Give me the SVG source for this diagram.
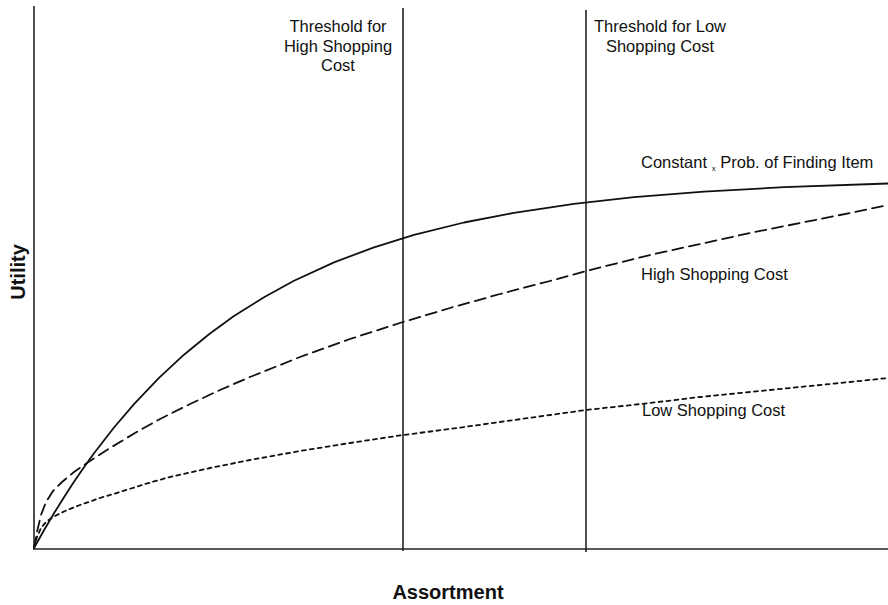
<svg xmlns="http://www.w3.org/2000/svg" width="888" height="605" viewBox="0 0 888 605">
<style>
text{font-family:"Liberation Sans",Arial,sans-serif;fill:#111}
.lbl{font-size:16.5px}
.ax{font-size:20px;font-weight:bold}
.line{stroke:#222;stroke-width:1.6;fill:none}
.curve{stroke:#111;stroke-width:1.8;fill:none;stroke-linecap:round;stroke-linejoin:round}
</style>
<rect width="888" height="605" fill="#fff"/>
<g id="axes">
<line class="line" x1="34" y1="6" x2="34" y2="549"/>
<line class="line" x1="33" y1="549" x2="888" y2="549"/>
</g>
<g id="thresholds">
<line class="line" x1="403" y1="8" x2="403" y2="551"/>
<line class="line" x1="586" y1="10" x2="586" y2="552"/>
</g>
<g id="connectors">
<path id="solid" class="curve" d="M34,548 L44,530.2 L54,513.3 L64,497.2 L74,481.8 L84,467.2 L94,453.3 L114,427.5 L134,404.1 L159,377.9 L184,354.7 L209,334.3 L234,316.1 L264,297.2 L294,280.8 L334,262.4 L374,247.3 L414,234.9 L464,222.5 L514,212.8 L574,203.9 L634,197.2 L704,191.6 L784,187.2 L888,183.5"/>
<path id="dashed" class="curve" stroke-dasharray="11 6" d="M34,548 L37,532 L41,515 L46,502 L53,491 L62,482 L74,472 L87,463 L110,448 L135,433 L160,419 L190,404 L220,390 L250,377 L300,357 L350,339 L403,322 L450,308 L500,294 L550,281 L586,271 L650,255 L700,244 L750,233 L800,223 L850,213 L888,205"/>
<path id="dotted" class="curve" stroke-dasharray="4 4" d="M34,548 L37,537 L41,528 L46,522 L53,517 L65,511 L80,505 L100,498 L120,492 L145,484 L170,477 L210,468 L250,460 L300,451 L350,443 L403,435 L450,429 L500,422 L550,415 L586,410 L650,403 L700,397 L750,392 L800,387 L850,382 L888,378"/>
</g>
<g id="label-high-threshold">
<text class="lbl" text-anchor="middle" x="338" y="32">Threshold for</text>
<text class="lbl" text-anchor="middle" x="338" y="52">High Shopping</text>
<text class="lbl" text-anchor="middle" x="338" y="71">Cost</text>
</g>
<g id="label-low-threshold">
<text class="lbl" text-anchor="middle" x="660" y="32">Threshold for Low</text>
<text class="lbl" text-anchor="middle" x="660" y="52">Shopping Cost</text>
</g>
<g id="label-constant">
<text class="lbl" x="641" y="168">Constant <tspan font-size="8" dy="3">x</tspan><tspan dy="-3"> Prob. of Finding Item</tspan></text>
</g>
<g id="label-high">
<text class="lbl" x="641" y="280">High Shopping Cost</text>
</g>
<g id="label-low">
<text class="lbl" x="642" y="416">Low Shopping Cost</text>
</g>
<g id="axis-labels">
<text class="ax" transform="translate(25,272) rotate(-90)" text-anchor="middle">Utility</text>
<text class="ax" x="448" y="599" text-anchor="middle">Assortment</text>
</g>
</svg>
